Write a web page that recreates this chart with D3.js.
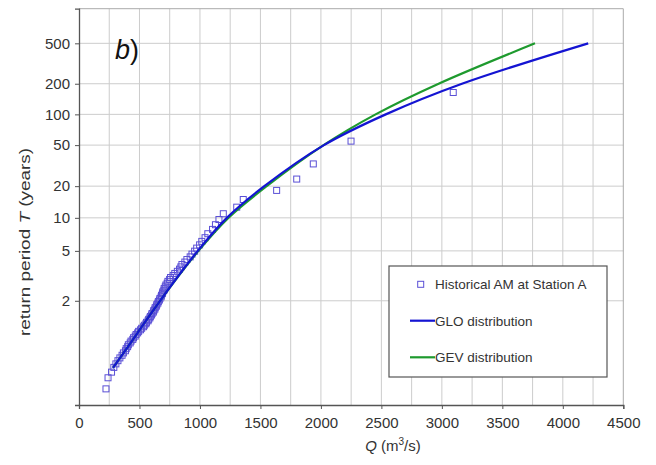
<!DOCTYPE html>
<html>
<head>
<meta charset="utf-8">
<script src="https://cdn.jsdelivr.net/npm/d3@7"></script>
<style>
  html, body { margin: 0; padding: 0; background: #fff; }
  svg { display: block; font-family: Arial, "Liberation Sans", sans-serif; }
</style>
</head>
<body>
<svg id="chart" width="656" height="465"></svg>
<script>
// ---- data ----
const xTicks = [0, 500, 1000, 1500, 2000, 2500, 3000, 3500, 4000, 4500];
const xGrid = [250, 500, 750, 1000, 1250, 1500, 1750, 2000, 2250, 2500, 2750, 3000, 3250, 3500, 3750, 4000, 4250];
const tTicks = [2, 5, 10, 20, 50, 100, 200, 500];

const obsQ = [223, 240, 269, 288, 305, 322, 338, 356, 367, 384, 390, 402, 408, 423, 430, 445, 451, 465, 472, 485,
  493, 509, 518, 534, 540, 553, 558, 571, 576, 586, 590, 600, 604, 615, 618, 627, 630, 640, 643, 652,
  656, 665, 669, 679, 682, 690, 692, 702, 704, 713, 718, 729, 735, 749, 757, 778, 792, 813, 831, 842,
  851, 875, 892, 919, 934, 956, 973, 997, 1015, 1042, 1065, 1104, 1128, 1157, 1193, 1304, 1358, 1634, 1800, 1937,
  2249, 3094];
const obsT = [1.006, 1.019, 1.031, 1.045, 1.058, 1.072, 1.086, 1.101, 1.116, 1.131, 1.147, 1.163, 1.180, 1.197, 1.215, 1.233, 1.252, 1.271, 1.291, 1.312,
  1.333, 1.355, 1.378, 1.402, 1.426, 1.451, 1.477, 1.505, 1.533, 1.562, 1.592, 1.624, 1.657, 1.691, 1.726, 1.763, 1.802, 1.843, 1.885, 1.929,
  1.976, 2.025, 2.076, 2.130, 2.187, 2.247, 2.310, 2.377, 2.448, 2.523, 2.603, 2.689, 2.780, 2.877, 2.982, 3.094, 3.216, 3.347, 3.489, 3.644,
  3.814, 4.0, 4.205, 4.432, 4.686, 4.970, 5.29, 5.655, 6.074, 6.56, 7.13, 7.81, 8.63, 9.65, 10.93, 12.6, 14.9, 18.2, 23.4, 32.8,
  54.7, 164];

const gloQ = [281, 479, 670, 982, 1222, 1532, 2025, 2536, 3166, 4210];
const gloT = [1.043, 1.3, 2, 5, 10, 20, 50, 100, 200, 500];

const gevQ = [281, 479, 670, 987, 1235, 1552, 2022, 2452, 2973, 3770];
const gevT = [1.043, 1.3, 2, 5, 10, 20, 50, 100, 200, 500];

const seriesNames = ["Historical AM at Station A", "GLO distribution", "GEV distribution"];

// ---- layout ----
const W = 656, H = 465;
const m = { left: 79, right: 32.7, top: 8.7, bottom: 60 };
const svg = d3.select("#chart");

// Gumbel reduced variate for return period T
const gumbel = T => -Math.log(-Math.log(1 - 1 / T));

const x = d3.scaleLinear().domain([0, 4500]).range([m.left, W - m.right]);
const y = d3.scaleLinear().domain([-2, 7]).range([H - m.bottom, m.top]);

const gridColor = "#cccccc";

// grid
svg.append("g").selectAll("line").data(xGrid).join("line")
  .attr("x1", d => x(d)).attr("x2", d => x(d))
  .attr("y1", y(-2)).attr("y2", y(7))
  .attr("stroke", gridColor).attr("stroke-width", 1);
svg.append("g").selectAll("line").data(tTicks).join("line")
  .attr("x1", x(0)).attr("x2", x(4500))
  .attr("y1", d => y(gumbel(d))).attr("y2", d => y(gumbel(d)))
  .attr("stroke", gridColor).attr("stroke-width", 1);

// top / right border
svg.append("line").attr("x1", x(0)).attr("x2", x(4500)).attr("y1", y(7)).attr("y2", y(7))
  .attr("stroke", "#aaaaaa");
svg.append("line").attr("x1", x(4500)).attr("x2", x(4500)).attr("y1", y(7)).attr("y2", y(-2))
  .attr("stroke", "#aaaaaa");

// axes
const xAxis = svg.append("g").attr("transform", `translate(0,${y(-2)})`)
  .call(d3.axisBottom(x).tickValues(xTicks).tickSize(4).tickPadding(8).tickFormat(d3.format("d")));
const yAxis = svg.append("g").attr("transform", `translate(${x(0)},0)`)
  .call(d3.axisLeft(y).tickValues(tTicks.map(gumbel)).tickSize(4).tickPadding(5)
    .tickFormat((d, i) => tTicks[i]));
[xAxis, yAxis].forEach(a => {
  a.select(".domain").attr("stroke", "#555").attr("stroke-width", 1.3);
  a.selectAll(".tick line").attr("stroke", "#555");
  a.selectAll(".tick text").attr("fill", "#333").style("font-size", "15px")
    .style("font-family", "Arial, 'Liberation Sans', sans-serif");
});

// observations
svg.append("g").selectAll("rect").data(obsQ.map((q, i) => [q, obsT[i]])).join("rect")
  .attr("x", d => x(d[0]) - 3).attr("y", d => y(gumbel(d[1])) - 3)
  .attr("width", 6).attr("height", 6)
  .attr("fill", "none").attr("stroke", "#5a4fd6").attr("stroke-width", 1);

const line = d3.line().x(d => x(d[0])).y(d => y(gumbel(d[1]))).curve(d3.curveCatmullRom.alpha(0.5));
svg.append("path").datum(gevQ.map((q, i) => [q, gevT[i]]))
  .attr("d", line).attr("fill", "none").attr("stroke", "#1e9a2e").attr("stroke-width", 2.2);
svg.append("path").datum(gloQ.map((q, i) => [q, gloT[i]]))
  .attr("d", line).attr("fill", "none").attr("stroke", "#1414d2").attr("stroke-width", 2.2);

// panel label
svg.append("text").attr("x", 115).attr("y", 59)
  .style("font-size", "27px").attr("fill", "#111")
  .html('<tspan font-style="italic">b</tspan>)');

// axis titles
svg.append("text").attr("x", 393).attr("y", 451).attr("text-anchor", "middle")
  .style("font-size", "15px").attr("fill", "#333")
  .html('<tspan font-style="italic">Q</tspan> (m<tspan dy="-6" font-size="10px">3</tspan><tspan dy="6">/s)</tspan>');
svg.append("text").attr("transform", "translate(30,242) rotate(-90)").attr("text-anchor", "middle")
  .style("font-size", "15px").attr("fill", "#333")
  .attr("textLength", 188).attr("lengthAdjust", "spacingAndGlyphs")
  .html('return period <tspan font-style="italic">T</tspan> (years)');

// legend
const lg = svg.append("g");
lg.append("rect").attr("x", 389).attr("y", 266).attr("width", 218).attr("height", 111)
  .attr("fill", "#fff").attr("stroke", "#555").attr("stroke-width", 1.2);
lg.append("rect").attr("x", 417.7).attr("y", 281.3).attr("width", 6).attr("height", 6)
  .attr("fill", "none").attr("stroke", "#5a4fd6");
lg.append("line").attr("x1", 410).attr("x2", 435).attr("y1", 320.7).attr("y2", 320.7)
  .attr("stroke", "#1414d2").attr("stroke-width", 2.2);
lg.append("line").attr("x1", 410).attr("x2", 435).attr("y1", 357.3).attr("y2", 357.3)
  .attr("stroke", "#1e9a2e").attr("stroke-width", 2.2);
[289, 325.5, 362].forEach((yy, i) => {
  lg.append("text").attr("x", 435).attr("y", yy).style("font-size", "13.5px").attr("fill", "#333")
    .text(seriesNames[i]);
});
</script>
</body>
</html>
